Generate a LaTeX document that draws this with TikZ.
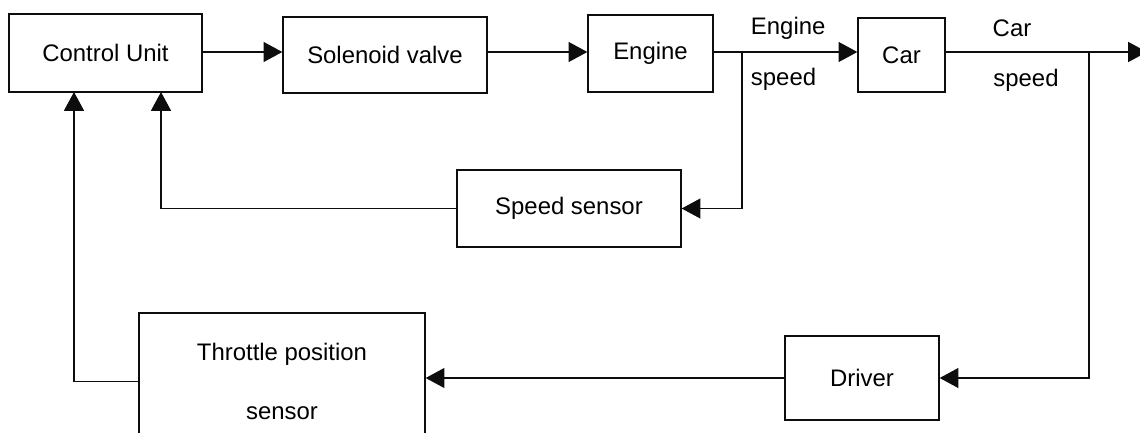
\documentclass[tikz,border=0pt]{standalone}
\usepackage{fontspec}
\setmainfont{Liberation Sans}
\usepackage{tikz}
\usetikzlibrary{arrows.meta,positioning,calc}
\definecolor{linegray}{gray}{0.05}

\begin{document}
\begin{tikzpicture}[x=0.025cm, y=-0.025cm,
    font=\fontsize{17}{20}\selectfont,
    block/.style={draw=linegray, line width=0.9pt, inner sep=0pt, align=center},
    arr/.style={line width=0.9pt, draw=linegray, -{Triangle[length=0.47cm, width=0.5cm]}},
    ln/.style={line width=0.9pt, draw=linegray}]
    \useasboundingbox (0,0) rectangle (1140,433);
    \clip (0,0) rectangle (1140,433);

    \node[block, minimum width=4.825cm, minimum height=1.95cm] (cu) at (105.5,53) {Control Unit};
    \node[block, minimum width=5.1cm, minimum height=1.9cm] (sol) at (385,55) {Solenoid valve};
    \node[block, minimum width=3.125cm, minimum height=1.925cm] (eng) at (650.5,53.5) {Engine};
    \node[block, minimum width=2.175cm, minimum height=1.85cm] (car) at (901.5,55) {Car};
    \node[block, minimum width=5.6cm, minimum height=1.925cm] (ss) at (569,208.5) {Speed sensor};
    \node[block, minimum width=7.15cm, minimum height=3.425cm,
          font=\fontsize{17}{42}\selectfont] (thr) at (282,381.5) {Throttle position\\sensor};
    \node[block, minimum width=3.85cm, minimum height=2.1cm] (drv) at (862,378) {Driver};

    \coordinate (es) at (742,52);
    \coordinate (cs) at (1089,52);
    \coordinate (out) at (1147,52);
    \coordinate (fb1) at (161,92);
    \coordinate (fb2) at (74,92);

    \draw[arr] (cu.east |- es) -- (sol.west |- es);
    \draw[arr] (sol.east |- es) -- (eng.west |- es);
    \draw[arr] (eng.east |- es) -- (car.west |- es);
    \draw[arr] (car.east |- es) -- (out);
    \draw[arr] (es) |- (ss.east);
    \draw[arr] (ss.west) -| (fb1);
    \draw[arr] (cs) |- (drv.east);
    \draw[arr] (drv.west) -- (thr.east |- drv.west);
    \draw[arr] (thr.west) -| (fb2);

    \node[anchor=west] (englbl) at (746,28) {Engine};
    \node[anchor=west] (spdlbl) at (746,79) {speed};
    \node (carlbl) at (1012,28) {Car};
    \node (cspdlbl) at (1026,80) {speed};
\end{tikzpicture}
\end{document}
